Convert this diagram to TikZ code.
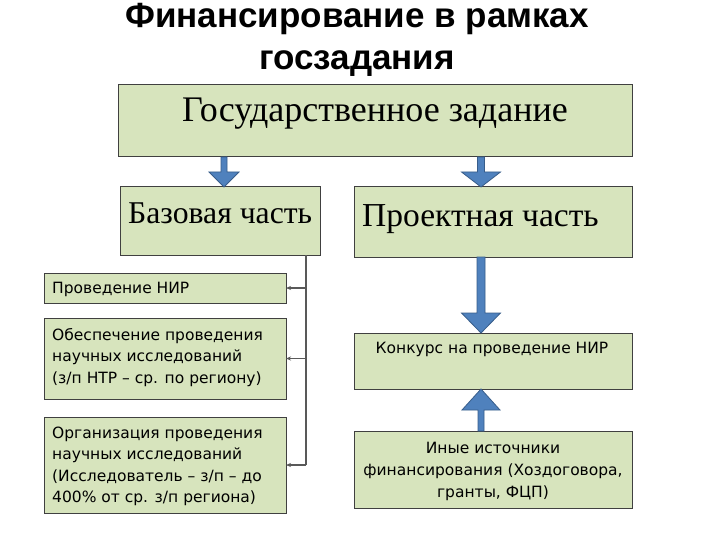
\documentclass[tikz,border=0pt]{standalone}
\usepackage{fontspec}
\setmainfont{Liberation Serif}
\newfontfamily\titlefont{Liberation Sans}
\newfontfamily\boxfont{DejaVu Sans}
\usetikzlibrary{arrows.meta,calc}
\definecolor{boxfill}{HTML}{D7E4BD}
\definecolor{boxline}{HTML}{404040}
\definecolor{arrfill}{HTML}{4F81BD}
\definecolor{arrline}{HTML}{385D8A}
\definecolor{connline}{HTML}{595959}
\newcommand\blockarrow[5]{\filldraw[blockarr] let \p1=(#1), \p2=(#2) in
  ({\x1-#3},\y1) -- ({\x1+#3},\y1) -- ({\x1+#3},{\y2+#5}) -- ({\x1+#4},{\y2+#5})
  -- (\x1,\y2) -- ({\x1-#4},{\y2+#5}) -- ({\x1-#3},{\y2+#5}) -- cycle;}
\begin{document}
\begin{tikzpicture}[x=1pt,y=-1pt,
  box/.style={draw=boxline,fill=boxfill,line width=1pt,inner sep=0pt,outer sep=0pt,anchor=north west},
  blockarr/.style={fill=arrfill,draw=arrline,line width=0.8pt,line join=miter},
  conn/.style={draw=connline,line width=1.1pt},
  connarr/.style={conn,-{Stealth[length=5pt,width=4pt]}},
  bigtxt/.style={inner sep=0pt,anchor=base west},
  small/.style={font=\boxfont\fontsize{15.5}{21.5}\selectfont,inner sep=0pt,anchor=base west,align=left},
  smallc/.style={font=\boxfont\fontsize{15.5}{22}\selectfont,inner sep=0pt,anchor=base,align=center}]
\useasboundingbox (0,0) rectangle (720,540);
\fill[white] (0,0) rectangle (720,540);
% title (anchor = baseline of the last line)
\node[font=\titlefont\bfseries\fontsize{35}{42}\selectfont,align=center,anchor=base,inner sep=0pt] (title) at (357,70) {Финансирование в рамках\\госзадания};
% boxes
\node[box,minimum width=514pt,minimum height=72pt] (top) at (118,85) {};
\node[box,minimum width=200pt,minimum height=68pt] (base) at (120,187) {};
\node[box,minimum width=278pt,minimum height=70pt] (proj) at (354,187) {};
\node[box,minimum width=242pt,minimum height=30pt] (nir) at (44,273) {};
\node[box,minimum width=242pt,minimum height=81pt] (obesp) at (44,318) {};
\node[box,minimum width=242pt,minimum height=96pt] (org) at (44,417) {};
\node[box,minimum width=278pt,minimum height=56pt] (konk) at (354,333) {};
\node[box,minimum width=278pt,minimum height=77pt] (inye) at (354,431) {};
% texts
\node[font=\fontsize{36}{40}\selectfont,inner sep=0pt,anchor=base] (toptxt) at (375,122) {Государственное задание};
\node[bigtxt,font=\fontsize{31.7}{36}\selectfont] (basetxt) at (128,223) {Базовая часть};
\node[bigtxt,font=\fontsize{33.5}{38}\selectfont] (projtxt) at (362,226) {Проектная часть};
\node[small] (nirtxt) at (52,293) {Проведение НИР};
\node[small] (obesptxt) at (52,383) {Обеспечение проведения\\научных исследований\\(з/п НТР – ср. по региону)};
\node[small] (orgtxt) at (52,502.5) {Организация проведения\\научных исследований\\(Исследователь – з/п – до\\400\% от ср. з/п региона)};
\node[smallc] (konktxt) at (492,353) {Конкурс на проведение НИР};
\node[smallc] (inyetxt) at (493,497) {Иные источники\\финансирования (Хоздоговора,\\гранты, ФЦП)};
% block arrows
\coordinate (ax1) at (224,0);
\coordinate (ax2) at (481,0);
\blockarrow{top.south -| ax1}{base.north -| ax1}{3pt}{15pt}{15pt}
\blockarrow{top.south -| ax2}{proj.north -| ax2}{3.5pt}{19.5pt}{15pt}
\blockarrow{proj.south -| ax2}{konk.north -| ax2}{4pt}{19.5pt}{20pt}
\blockarrow{inye.north -| ax2}{konk.south -| ax2}{3pt}{19pt}{-21pt}
% connectors
\coordinate (vx) at (306,0);
\draw[conn] (base.south -| vx) -- (vx |- org.east);
\draw[connarr] (vx |- nir.east) -- (nir.east);
\draw[connarr] (vx |- obesp.east) -- (obesp.east);
\draw[connarr] (vx |- org.east) -- (org.east);
\end{tikzpicture}
\end{document}
